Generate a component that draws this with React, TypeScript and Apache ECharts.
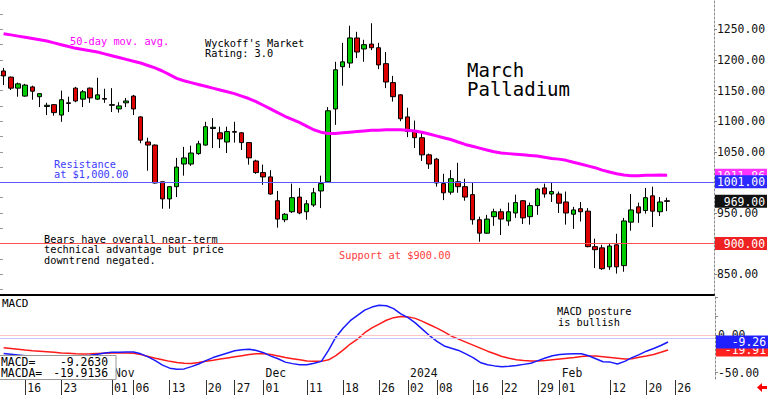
import React, { useEffect, useRef } from 'react';
import * as echarts from 'echarts';

const FONT = '"DejaVu Sans Mono", monospace';

const dates = [
  '2023-10-11','2023-10-12','2023-10-13','2023-10-16','2023-10-17','2023-10-18','2023-10-19','2023-10-20','2023-10-23','2023-10-24','2023-10-25','2023-10-26','2023-10-27','2023-10-30','2023-10-31',
  '2023-11-01','2023-11-02','2023-11-03','2023-11-06','2023-11-07','2023-11-08','2023-11-09','2023-11-10','2023-11-13','2023-11-14','2023-11-15','2023-11-16','2023-11-17','2023-11-20','2023-11-21','2023-11-22','2023-11-24','2023-11-27','2023-11-28','2023-11-29','2023-11-30',
  '2023-12-01','2023-12-04','2023-12-05','2023-12-06','2023-12-07','2023-12-08','2023-12-11','2023-12-12','2023-12-13','2023-12-14','2023-12-15','2023-12-18','2023-12-19','2023-12-20','2023-12-21','2023-12-22','2023-12-26','2023-12-27','2023-12-28','2023-12-29',
  '2024-01-02','2024-01-03','2024-01-04','2024-01-05','2024-01-08','2024-01-09','2024-01-10','2024-01-11','2024-01-12','2024-01-16','2024-01-17','2024-01-18','2024-01-19','2024-01-22','2024-01-23','2024-01-24','2024-01-25','2024-01-26','2024-01-29','2024-01-30','2024-01-31',
  '2024-02-01','2024-02-02','2024-02-05','2024-02-06','2024-02-07','2024-02-08','2024-02-09','2024-02-12','2024-02-13','2024-02-14','2024-02-15','2024-02-16','2024-02-20','2024-02-21','2024-02-22','2024-02-23','2024-02-26','2024-02-27','2024-02-28','2024-02-29',
  '2024-03-01','2024-03-04',
];

const opens = [1182,1172,1154,1141,1156,1140,1124,1127,1110,1130,1154,1136,1154,1136,1137,
  1127,1120,1130,1141,1107,1066,1061,1001,973,993,1030,1030,1047,1061,1088,1081,1066,1083,1081,1065,1035,
  1016,1009,970,939,952,976,952,963,986,1001,1120,1189,1195,1236,1218,1226,1220,1194,1163,1143,
  1107,1083,1073,1045,1038,998,984,1001,993,980,939,917,944,952,937,950,970,944,962,991,981,
  981,968,948,957,953,895,893,862,898,864,935,960,954,978,952,970];
const closes = [1174,1154,1161,1159,1149,1145,1126,1114,1135,1129,1133,1148,1138,1143,1136,
  1126,1125,1133,1120,1069,1061,999,973,993,1025,1040,1048,1063,1091,1090,1071,1083,1082,1065,1040,1016,
  1009,981,940,948,975,950,965,983,998,1117,1184,1197,1236,1213,1225,1220,1192,1164,1140,1104,
  1083,1073,1045,1030,999,983,1006,993,976,939,917,940,952,940,952,967,942,962,989,981,985,
  966,950,955,952,895,890,859,896,862,937,955,950,975,953,968,969];
const lows = [1159,1151,1140,1140,1135,1123,1110,1109,1099,1115,1131,1123,1130,1135,1130,
  1115,1114,1123,1110,1064,1019,998,957,957,976,1011,1027,1045,1060,1056,1056,1048,1065,1053,1029,1014,
  996,980,926,935,950,948,939,960,958,1000,1094,1158,1187,1203,1197,1216,1185,1154,1132,1100,
  1074,1056,1035,1022,993,971,980,983,970,931,903,916,929,914,929,942,932,931,947,975,968,
  950,931,924,936,894,860,857,857,851,854,921,934,949,927,945,953];
const highs = [1187,1173,1163,1161,1158,1146,1130,1128,1150,1140,1156,1151,1155,1171,1153,
  1154,1131,1138,1143,1108,1073,1062,1001,993,1040,1058,1060,1068,1099,1105,1091,1091,1099,1082,1066,1037,
  1029,1020,986,950,998,991,971,991,1011,1123,1197,1228,1256,1246,1233,1260,1228,1213,1174,1144,
  1122,1101,1081,1047,1040,1014,1020,1032,1006,999,944,947,957,957,967,980,971,967,991,998,999,
  985,985,960,968,958,908,898,901,916,942,981,967,991,993,976,975];

const ma50 = [1243,1241,1239,1237,1235,1233,1231,1228,1225,1222,1219,1217,1215,1213,1210,
  1207,1204,1201,1198,1195,1191,1187,1182,1176,1170,1166,1163,1160,1157,1154,1151,1148,1145,1141,1137,1132,
  1126,1120,1114,1108,1103,1098,1092,1086,1082,1080,1080,1081,1082,1083,1084,1085,1085,1086,1086,1086,
  1085,1084,1082,1079,1076,1073,1070,1066,1062,1059,1056,1053,1050,1048,1047,1046,1045,1044,1043,1041,1039,
  1038,1036,1033,1030,1027,1024,1020,1017,1014,1012,1011,1011,1011.5,1011.5,1012,1011.86];

const macd = [-24.5,-25.5,-26.5,-27.5,-28,-28.5,-29,-29.5,-29.5,-29,-28.5,-28,-27,-25.5,-24,
  -23,-22.8,-22.5,-22.6,-25,-29,-34,-40,-44,-45.5,-45,-42,-38.5,-34,-30,-27,-24,-21,-19.5,-19,-20.5,
  -23.5,-28,-31.5,-36,-38,-39.5,-39.5,-37.5,-35,-20,-3,9,19,26,33,37,39.3,38.8,35,28,
  23,16,7.5,-1,-8.5,-14.6,-17.5,-20.5,-25,-30,-36.5,-39.5,-41,-42,-41.5,-40.5,-39,-37.5,-34,-30.5,-27.5,
  -26,-25.2,-24.8,-24.8,-27.5,-31.5,-35.5,-36,-38.5,-35,-30,-26,-21.5,-18,-14,-9.263];
const macdSignal = [-17,-18,-19,-20,-20.8,-21.5,-22.2,-23,-23.8,-24.4,-25,-25.2,-25,-24.6,-24.2,
  -23.8,-23.6,-23.8,-24.3,-26,-28.5,-31,-33,-35,-36.5,-37.5,-37.8,-36.5,-35,-33.6,-32,-30.5,-29,-27.5,-26,-25,
  -25,-26,-28,-30,-31.5,-33,-34.5,-35,-35,-33,-27.5,-20,-12,-5.5,3,9.5,14.5,19.5,23,24.5,
  24,22,18,13.5,9,4,-1.5,-5.5,-9.5,-13.5,-17.5,-21.5,-25,-28.5,-31,-33,-34,-34.5,-34.5,-34,-33,
  -32,-31,-30,-28.5,-27.8,-28,-29,-30,-31,-32,-31.5,-29.5,-28,-26,-23,-19.9136];

const priceLabelValues = [850, 950, 1050, 1100, 1150, 1200, 1250];
const priceTickValues = [850, 900, 950, 1000, 1050, 1100, 1150, 1200, 1250];
const macdLabelValues = [-50, 0];
const resistanceLevel = 1001;
const supportLevel = 900;
const dayTickDates = ['2023-10-16','2023-10-23','2023-11-01','2023-11-06','2023-11-13','2023-11-20','2023-11-27',
  '2023-12-01','2023-12-11','2023-12-18','2023-12-26','2024-01-02','2024-01-08','2024-01-16','2024-01-22',
  '2024-01-29','2024-02-01','2024-02-12','2024-02-20','2024-02-26'];
const monthLabels: Record<string, string> = {
  '2023-11-01': 'Nov', '2023-12-01': 'Dec', '2024-01-02': '2024', '2024-02-01': 'Feb',
};

function boxLabel(value: number, bg: string) {
  return {
    show: true,
    position: 'end',
    distance: 1,
    formatter: `{v|${value.toFixed(2)}}`,
    backgroundColor: bg,
    padding: [1, 2, 0, 2],
    rich: { v: { width: 48, align: 'right', color: '#fff', fontFamily: FONT, fontSize: 11.4, lineHeight: 12 } },
  };
}

function buildOption() {
  const N = opens.length;
  const candleData = opens.map((o, i) => [o, closes[i], lows[i], highs[i]]);
  const lastClose = closes[N - 1];
  const lastMa = ma50[N - 1];
  const lastMacd = macd[N - 1];
  const lastSig = macdSignal[N - 1];
  const txt = (text: string, x: number, y: number, fill = '#000', size = 10.3, extra: any = {}) => ({
    type: 'text', x, y, z: 100,
    style: { text, fill, fontFamily: FONT, fontSize: size, verticalAlign: 'middle', ...extra },
  });
  const hiddenCat = (gridIndex: number) => ({
    type: 'category', gridIndex, data: dates, boundaryGap: true,
    axisLine: { show: false }, axisTick: { show: false }, axisLabel: { show: false }, splitLine: { show: false },
  });
  return {
    animation: false,
    backgroundColor: '#fff',
    grid: [
      { left: 0, right: 53, top: 0, height: 295 },
      { left: 0, right: 53, top: 296, height: 83 },
      { left: 0, right: 53, top: 296, height: 83 },
      { left: 0, right: 53, top: 380, height: 15 },
    ],
    xAxis: [
      {
        type: 'category', gridIndex: 0, data: dates, boundaryGap: true,
        axisLine: { show: true, lineStyle: { color: '#000', width: 2 } },
        axisTick: { show: false }, axisLabel: { show: false }, splitLine: { show: false },
      },
      {
        type: 'category', gridIndex: 1, data: dates, boundaryGap: true,
        axisLine: { show: true, lineStyle: { color: '#777', width: 1 } },
        axisTick: { show: false },
        axisLabel: {
          interval: (_i: number, v: string) => dayTickDates.includes(v),
          formatter: (v: string) => v.slice(8),
          align: 'left', margin: 3, padding: [0, 0, 0, 2],
          fontFamily: FONT, fontSize: 11.4, color: '#111',
        },
        splitLine: { show: false },
      },
      {
        type: 'category', gridIndex: 2, data: dates, boundaryGap: true, position: 'bottom',
        axisLine: { show: false }, axisTick: { show: false },
        axisLabel: {
          inside: true, margin: 1,
          interval: (_i: number, v: string) => v in monthLabels,
          formatter: (v: string) => monthLabels[v] || '',
          align: 'left', padding: [0, 0, 0, 2],
          fontFamily: FONT, fontSize: 11.4, color: '#111',
        },
        splitLine: { show: false },
      },
      hiddenCat(3),
    ],
    yAxis: [
      {
        type: 'value', gridIndex: 0, position: 'right', min: 816, max: 1298, scale: true,
        axisLine: { show: true, lineStyle: { color: '#888', type: [2, 2] } },
        axisTick: { show: true, length: 3, customValues: priceTickValues, lineStyle: { color: '#888' } },
        axisLabel: {
          customValues: priceLabelValues, margin: 3,
          formatter: (v: number) => v.toFixed(2),
          fontFamily: FONT, fontSize: 11.4, color: '#111',
        },
        splitLine: { show: false },
      },
      {
        type: 'value', gridIndex: 0, position: 'left', min: 816, max: 1298,
        axisLine: { show: false }, axisLabel: { show: false },
        axisTick: { show: true, inside: true, length: 3, customValues: [825, 850, 875, 900, 925, 950, 975, 1000, 1025, 1050, 1075, 1100, 1125, 1150, 1175, 1200, 1225, 1250, 1275], lineStyle: { color: '#999' } },
        splitLine: { show: false },
      },
      {
        type: 'value', gridIndex: 1, position: 'right', min: -58.4, max: 51.7,
        axisLine: { show: true, lineStyle: { color: '#888', type: [2, 2] } },
        axisTick: { show: true, length: 3, customValues: [-50, -25, 0, 25, 50], lineStyle: { color: '#888' } },
        axisLabel: {
          customValues: macdLabelValues, margin: 3,
          formatter: (v: number) => v.toFixed(2),
          fontFamily: FONT, fontSize: 11.4, color: '#111',
        },
        splitLine: { show: false },
      },
      { type: 'value', gridIndex: 2, show: false, min: 0, max: 1 },
      { type: 'value', gridIndex: 3, show: false, min: 0, max: 1 },
    ],
    series: [
      {
        name: '50-day', type: 'line', xAxisIndex: 0, yAxisIndex: 0, data: ma50,
        showSymbol: false, symbol: 'none', lineStyle: { color: '#ff00ff', width: 3 }, silent: true,
      },
      {
        name: 'Palladium', type: 'candlestick', xAxisIndex: 0, yAxisIndex: 0, data: candleData,
        barWidth: 5,
        itemStyle: { color: '#00cc00', color0: '#dd0000', borderColor: '#000', borderColor0: '#000', borderWidth: 1 },
        markLine: {
          silent: true, symbol: ['none', 'none'],
          data: [
            { yAxis: lastMa, lineStyle: { color: 'rgba(0,0,0,0)', width: 0 }, label: boxLabel(lastMa, '#ff33ff') },
            { yAxis: resistanceLevel, lineStyle: { color: '#5a5aff', width: 1, type: 'solid' }, label: boxLabel(resistanceLevel, '#2a2aff') },
            { yAxis: lastClose, lineStyle: { color: 'rgba(0,0,0,0)', width: 0 }, label: boxLabel(lastClose, '#111') },
            { yAxis: supportLevel, lineStyle: { color: '#ff5050', width: 1, type: 'solid' }, label: boxLabel(supportLevel, '#ee2222') },
          ],
        },
      },
      {
        name: 'MACDA', type: 'line', xAxisIndex: 1, yAxisIndex: 2, data: macdSignal,
        showSymbol: false, symbol: 'none', lineStyle: { color: '#ff1a1a', width: 1.5 }, silent: true,
        markLine: {
          silent: true, symbol: ['none', 'none'],
          data: [
            { yAxis: 0, lineStyle: { color: '#ffc4c4', width: 1, type: 'solid' }, label: { show: false } },
            { yAxis: -4.4, lineStyle: { color: '#c4c4ff', width: 1, type: 'solid' }, label: { show: false } },
            { yAxis: lastSig, lineStyle: { color: 'rgba(0,0,0,0)', width: 0 }, label: boxLabel(lastSig, '#ff2020') },
          ],
        },
      },
      {
        name: 'MACD', type: 'line', xAxisIndex: 1, yAxisIndex: 2, data: macd,
        showSymbol: false, symbol: 'none', lineStyle: { color: '#1a1aff', width: 1.5 }, silent: true,
        markLine: {
          silent: true, symbol: ['none', 'none'],
          data: [
            { yAxis: lastMacd, lineStyle: { color: 'rgba(0,0,0,0)', width: 0 }, label: boxLabel(lastMacd, '#2020ff') },
          ],
        },
      },
      {
        name: 'dateTicks', type: 'line', xAxisIndex: 3, yAxisIndex: 4, data: dates.map(() => null),
        showSymbol: false, symbol: 'none', silent: true, lineStyle: { opacity: 0 },
        markLine: {
          silent: true, symbol: ['none', 'none'], label: { show: false },
          lineStyle: { color: '#333', width: 1, type: 'solid' },
          data: dayTickDates.map((d) => ({ xAxis: d })),
        },
      },
    ],
    graphic: [
      txt('50-day mov. avg.', 70, 41, '#ff00ff'),
      txt("Wyckoff's Market", 205, 43),
      txt('Rating: 3.0', 205, 53),
      txt('March', 467, 70, '#000', 19),
      txt('Palladium', 467, 89, '#000', 19),
      txt('Resistance', 54, 164, '#3c3cff'),
      txt('at $1,000.00', 54, 174, '#3c3cff'),
      txt('Bears have overall near-term', 44, 238.5),
      txt('technical advantage but price', 44, 249),
      txt('downtrend negated.', 44, 259.5),
      txt('Support at $900.00', 339, 255, '#ff3c3c'),
      txt('MACD posture', 557, 311),
      txt('is bullish', 558, 321.5),
      txt('MACD', 2, 303.5, '#000', 11),
      {
        type: 'rect', z: 100, shape: { x: -1, y: 355.5, width: 117, height: 24 },
        style: { fill: '#fff', stroke: '#999', lineWidth: 1 },
      },
      txt('MACD=', 1, 361.5, '#000', 11.4),
      txt(lastMacd.toFixed(4), 108, 361.5, '#000', 11.4, { align: 'right' }),
      txt('MACDA=', 1, 373, '#000', 11.4),
      txt(lastSig.toFixed(4), 108, 373, '#000', 11.4, { align: 'right' }),
      {
        type: 'polygon', z: 100,
        shape: { points: [[757, 387.5], [762, 383], [762, 386], [767, 386], [767, 389], [762, 389], [762, 392]] },
        style: { fill: '#ff0000' },
      },
    ],
  };
}

export default function App() {
  const ref = useRef<HTMLDivElement>(null);
  useEffect(() => {
    document.body.style.margin = '0';
    const chart = echarts.init(ref.current as HTMLDivElement, null, { renderer: 'svg' });
    chart.setOption(buildOption() as any);
    return () => chart.dispose();
  }, []);
  return <div ref={ref} style={{ width: 768, height: 395 }} />;
}
